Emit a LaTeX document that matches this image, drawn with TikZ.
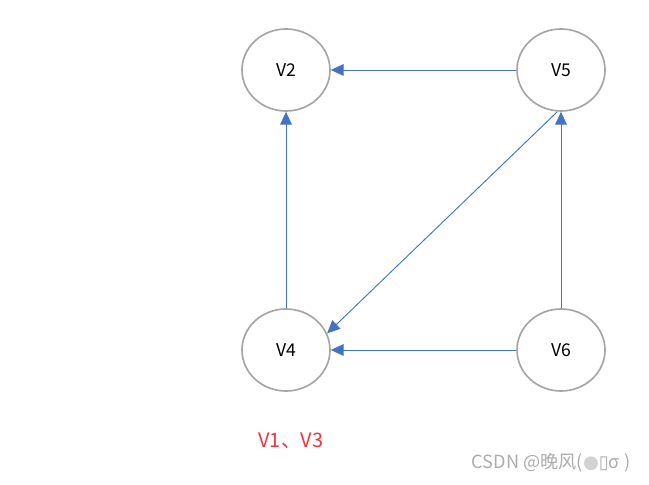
\documentclass[tikz,border=0pt]{standalone}
\usepackage{fontspec}
\setmainfont{Noto Sans CJK SC}
\newfontfamily\symfont{DejaVu Sans}
\usetikzlibrary{arrows.meta,shapes.geometric}
\definecolor{edgeblue}{HTML}{4472C4}
\definecolor{ringgray}{HTML}{A5A5A5}
\definecolor{notered}{HTML}{E8383D}

\begin{document}
\begin{tikzpicture}[x=0.03cm,y=-0.03cm,
  vertex/.style={ellipse,draw=ringgray,line width=1.4pt,minimum width=2.64cm,minimum height=2.46cm,inner sep=0pt,font=\fontsize{15}{18}\selectfont},
  arc/.style={draw=edgeblue,line width=0.8pt,-{Triangle[length=11pt,width=10pt,fill=edgeblue]}}]
  \useasboundingbox (0,0) rectangle (649,485);

  \node[vertex] (V2) at (286,70) {V2};
  \node[vertex] (V5) at (561,70) {V5};
  \node[vertex] (V4) at (286,350) {V4};
  \node[vertex] (V6) at (561,350) {V6};

  \draw[arc] (V5.west) -- (V2.east);
  \draw[arc] (V4.north) -- (V2.south);
  \draw[arc] (V6.north) -- (V5.south);
  \draw[arc] (V5.265) -- (V4.22);
  \draw[arc] (V6.west) -- (V4.east);

  % vertices left over
  \node[text=notered,font=\fontsize{17}{20}\selectfont] (rest) at (291,441) {V1、V3};
  \node[text=gray!65,font=\fontsize{15.5}{18}\selectfont] (mark) at (551,463) {CSDN @晚风(\textcolor{gray!35}{\symfont●}{\symfont▯}σ )};
\end{tikzpicture}
\end{document}
